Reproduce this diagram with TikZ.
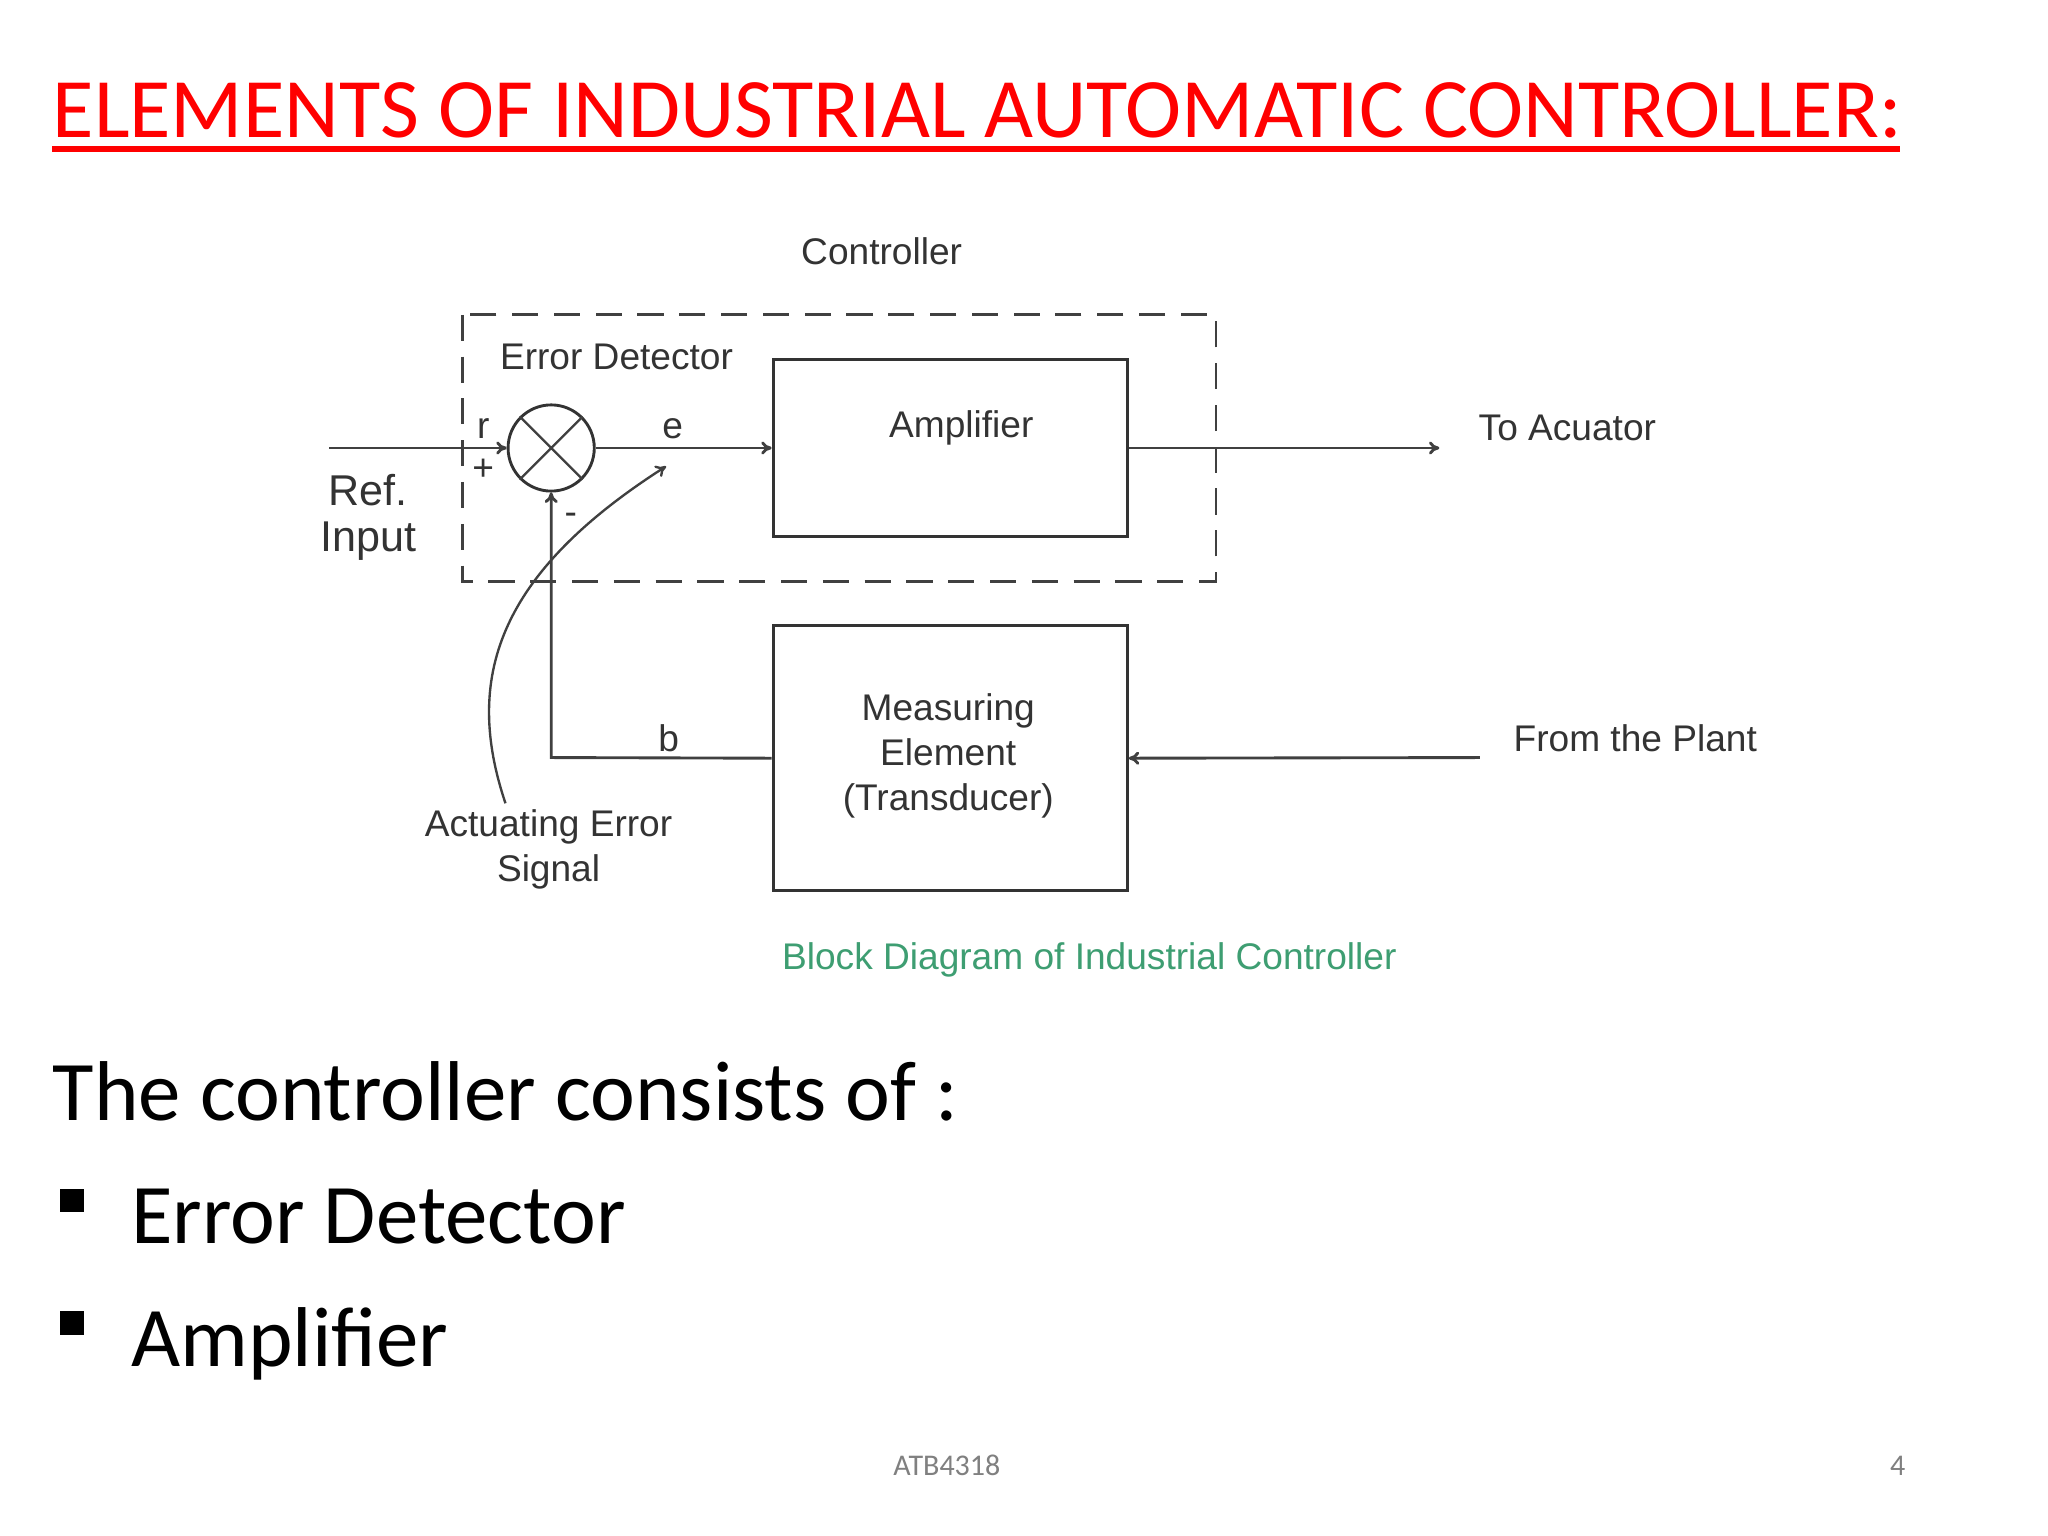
\documentclass[tikz,border=0pt]{standalone}
\usepackage{fontspec}
\setmainfont{Carlito}
\newfontfamily\arialf{Liberation Sans}
\usetikzlibrary{arrows.meta}
\definecolor{dtext}{HTML}{333333}
\definecolor{cap}{HTML}{3E9E72}
\begin{document}
\begin{tikzpicture}[x=0.5pt,y=-0.5pt,
  lbl/.style={font=\arialf\fontsize{14.2}{16}\selectfont,text=dtext,inner sep=0pt,align=center},
  box/.style={draw=black!80,line width=1.2pt},
  conn/.style={draw=black!75,line width=1.1pt,-{To[length=4pt,width=5pt]}}]
\useasboundingbox[fill=white] (0,0) rectangle (1568,1176);
\node[anchor=base west,inner sep=0pt,text=red,font=\fontsize{32.4}{36}\selectfont] (title) at (40,105) {ELEMENTS OF INDUSTRIAL AUTOMATIC CONTROLLER:};
\draw[red,line width=2pt] (40,114) -- (1455,114);
\node[lbl] (ctl) at (675,192) {Controller};
\draw[dashed,line width=1.1pt,dash pattern=on 10pt off 6pt,draw=black!75] (354,241) rectangle (931,445);
\node[lbl] (ed) at (472,273) {Error Detector};
\node[draw=black!80,line width=1.1pt,circle,minimum size=33pt,inner sep=0pt] (sum) at (422,343) {};
\draw[black!75,line width=0.9pt] (sum.north west)--(sum.south east) (sum.north east)--(sum.south west);
\coordinate (in) at (252,343);
\draw[conn] (in) -- (sum.west);
\node[lbl] (r) at (370,328) {r};
\node[lbl] (plus) at (370,360) {+};
\node[lbl,font=\arialf\fontsize{16.5}{17.5}\selectfont] (ref) at (282,396) {Ref.\\Input};
\node[box,minimum width=135.5pt,minimum height=68pt] (amp) at (727.5,343) {};
\node[lbl] at (736,328) {Amplifier};
\draw[conn] (sum.east) -- (amp.west);
\node[lbl] (e) at (515,328) {e};
\coordinate (act) at (1102,343);
\draw[conn] (amp.east) -- (act);
\node[lbl] (toa) at (1200,328) {To Acuator};
\node[box,minimum width=135.5pt,minimum height=101.5pt] (meas) at (727.5,580.5) {};
\node[lbl,font=\arialf\fontsize{14.2}{17.2}\selectfont] at (726,579) {Measuring\\Element\\(Transducer)};
\coordinate (plant) at (1133,580);
\draw[conn] (plant) -- (meas.east);
\node[lbl] (ftp) at (1252,565) {From the Plant};
\coordinate (corner) at (422,580);
\draw[conn] (meas.west) -- (corner) -- (sum.south);
\node[lbl] (b) at (512,565) {b};
\node[lbl] (minus) at (437,397) {-};
\coordinate (cs) at (387,615);
\coordinate (ce) at (510,357);
\draw[conn,line width=0.9pt] (cs) .. controls (355,520) and (380,440) .. (ce);
\node[lbl,font=\arialf\fontsize{14.2}{17.2}\selectfont] (aes) at (420,650) {Actuating Error\\Signal};
\node[lbl,text=cap] (capt) at (834,735) {Block Diagram of Industrial Controller};
\node[anchor=base west,inner sep=0pt,font=\fontsize{32.5}{36}\selectfont] (body) at (40,858) {The controller consists of :};
\fill (46,910) rectangle (64,928);
\fill (46,1004) rectangle (64,1022);
\node[anchor=base west,inner sep=0pt,font=\fontsize{32.5}{36}\selectfont] (b1) at (100,952) {Error Detector};
\node[anchor=base west,inner sep=0pt,font=\fontsize{32.5}{36}\selectfont] (b2) at (100,1046) {Amplifier};
\node[inner sep=0pt,text=black!50,font=\fontsize{11.5}{13}\selectfont] (ft) at (725,1122) {ATB4318};
\node[inner sep=0pt,text=black!50,font=\fontsize{11.5}{13}\selectfont] (pg) at (1453,1122) {4};
\end{tikzpicture}
\end{document}
